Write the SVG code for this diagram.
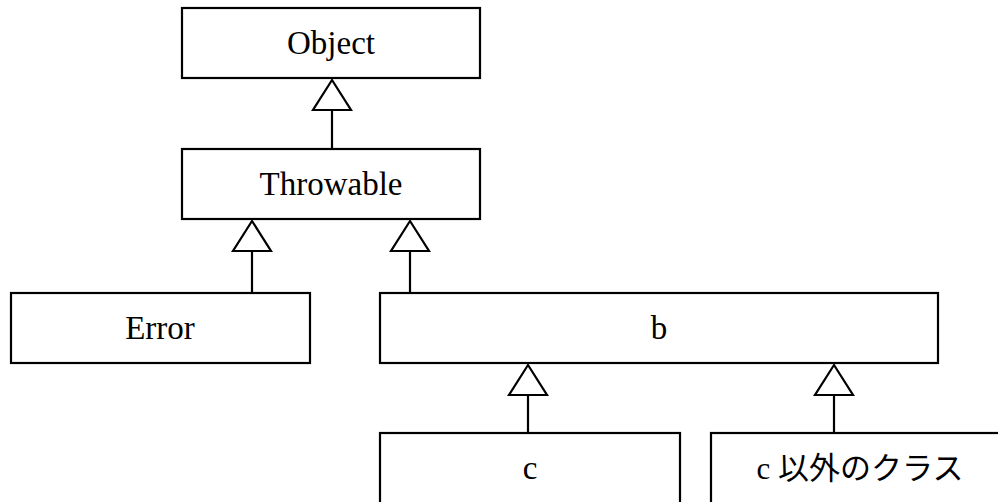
<svg xmlns="http://www.w3.org/2000/svg" width="998" height="502" viewBox="0 0 998 502">
<style>
.box{fill:#fff;stroke:#000;stroke-width:2.2}
.lbl{font-family:"Liberation Serif","Noto Sans CJK JP",serif;font-size:33px;fill:#000;text-anchor:middle}
.ln{stroke:#000;stroke-width:2.2;fill:none}
.tri{fill:#fff;stroke:#000;stroke-width:2.2;stroke-linejoin:miter}
</style>
<rect width="998" height="502" fill="#fff"/>
<g id="connectors">
<line class="ln" x1="332" y1="110" x2="332" y2="149"/>
<polygon class="tri" points="332,80 313,110 351,110"/>
<line class="ln" x1="252" y1="251" x2="252" y2="293"/>
<polygon class="tri" points="252,221 233,251 271,251"/>
<line class="ln" x1="410" y1="251" x2="410" y2="293"/>
<polygon class="tri" points="410,221 391,251 429,251"/>
<line class="ln" x1="528" y1="395" x2="528" y2="433"/>
<polygon class="tri" points="528,365 509,395 547,395"/>
<line class="ln" x1="834" y1="395" x2="834" y2="433"/>
<polygon class="tri" points="834,365 815,395 853,395"/>
</g>
<g id="object">
<rect class="box" x="182" y="8" width="298" height="70"/>
<text class="lbl" x="331" y="54">Object</text>
</g>
<g id="throwable">
<rect class="box" x="182" y="149" width="298" height="70"/>
<text class="lbl" x="331" y="195">Throwable</text>
</g>
<g id="error">
<rect class="box" x="11" y="293" width="299" height="70"/>
<text class="lbl" x="160" y="339">Error</text>
</g>
<g id="b">
<rect class="box" x="380" y="293" width="558" height="70"/>
<text class="lbl" x="659" y="339">b</text>
</g>
<g id="c">
<rect class="box" x="380" y="433" width="300" height="80"/>
<text class="lbl" x="530" y="479">c</text>
</g>
<g id="other">
<rect class="box" x="711" y="433" width="300" height="80"/>
<text class="lbl" x="860" y="479" style="font-size:31px">c 以外のクラス</text>
</g>
</svg>
